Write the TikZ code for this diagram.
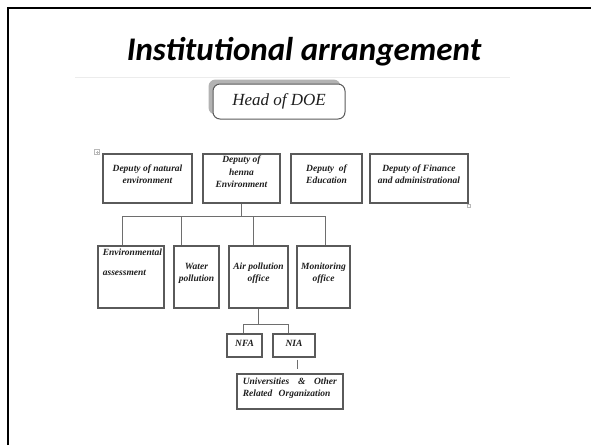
\documentclass[tikz,border=0pt]{standalone}
\usepackage{fontspec}
\setmainfont{Liberation Serif}
\newfontfamily\titlefont{Carlito}
\usetikzlibrary{positioning,shadows}

\definecolor{boxline}{RGB}{90,90,90}
\definecolor{busline}{RGB}{110,110,110}
\definecolor{boxtext}{RGB}{30,30,30}

\tikzset{every picture/.style={line width=0.75pt}}
\tikzset{
  orgbox/.style={draw=boxline, line width=1.1pt, inner sep=0pt},
  orgtext/.style={inner sep=0pt, text=boxtext, align=center,
    font=\fontsize{9.5}{12.5}\selectfont\bfseries\itshape},
  bus/.style={draw=busline, line width=1pt}
}

\begin{document}
\begin{tikzpicture}[x=1pt,y=1pt,yscale=-1,xscale=1]
\useasboundingbox (0,0) rectangle (591,445);

%Slide frame
\draw [line width=2.5pt] (8,445) -- (8,8) -- (591,8) ;
%Title
\node (title) [anchor=base, font=\titlefont\fontsize{33}{36}\selectfont\bfseries\itshape] at (304,60) {Institutional arrangement};
%Straight Lines (rule)
\draw [color=gray!15, line width=1pt] (75,77) -- (510,77) ;

%Shape: Rounded Rectangle (head)
\node (head) [draw=boxline, line width=1pt, rounded corners=7pt, fill=white, minimum width=132, minimum height=35,
  drop shadow={shadow xshift=-4.5pt, shadow yshift=4.5pt, fill=gray!70, opacity=0.85},
  font=\fontsize{17}{20}\selectfont\itshape, text=boxtext] at (279,101.5) {Head of DOE};

%Shape: Rectangle (deputies)
\node (d1) [orgbox, minimum width=89, minimum height=49] at (147.5,178.5) {};
\node (d2) [orgbox, minimum width=77, minimum height=49] at (241.5,178.5) {};
\node (d3) [orgbox, minimum width=71, minimum height=49] at (326.5,178.5) {};
\node (d4) [orgbox, minimum width=98, minimum height=49] at (419,178.5) {};
% Text Node
\node (t1) [orgtext, below=10.5pt of d1.north] {Deputy of natural\\environment};
\node (t2) [orgtext, below=2pt of d2.north] {Deputy of\\henna\\Environment};
\node (t3) [orgtext, below=10.5pt of d3.north] {Deputy~~of\\Education};
\node (t4) [orgtext, below=10.5pt of d4.north] {Deputy of Finance\\and administrational};

%Word handles
\draw [gray!55, line width=0.5pt] (94.5,149.5) rectangle (99.5,154.5) (95.5,152) -- (98.5,152) (97,150.5) -- (97,153.5) ;
\draw [gray!55, line width=0.5pt] (467,204) rectangle (470,207) ;

%Shape: Rectangle (offices)
\node (env) [orgbox, minimum width=66, minimum height=62] at (131,277) {};
\node (wat) [orgbox, minimum width=45, minimum height=62] at (196.5,277) {};
\node (air) [orgbox, minimum width=59, minimum height=62] at (258.5,277) {};
\node (mon) [orgbox, minimum width=53, minimum height=62] at (323.5,277) {};
% Text Node
\node (tenv) [orgtext, align=left, anchor=north west, font=\fontsize{9.5}{20}\selectfont\bfseries\itshape] at ([xshift=5pt,yshift=3pt]env.north west) {Environmental\\assessment};
\node (twat) [orgtext, below=17pt of wat.north] {Water\\pollution};
\node (tair) [orgtext, below=17pt of air.north] {Air pollution\\office};
\node (tmon) [orgtext, below=17pt of mon.north] {Monitoring\\office};

%Straight Lines (bus)
\coordinate (b1) at (122,216);
\coordinate (b2) at (181,216);
\coordinate (b3) at (253,216);
\coordinate (b4) at (325,216);
\draw [bus] (d2.south) -- (d2.south |- b1) ;
\draw [bus] (b1) -- (b4) ;
\draw [bus] (b1) -- (b1 |- env.north) ;
\draw [bus] (b2) -- (b2 |- wat.north) ;
\draw [bus] (b3) -- (b3 |- air.north) ;
\draw [bus] (b4) -- (b4 |- mon.north) ;

%Shape: Rectangle (agencies)
\node (nfa) [orgbox, minimum width=35, minimum height=23] at (244.5,345.5) {};
\node (nia) [orgbox, minimum width=42, minimum height=23] at (294,345.5) {};
\node (univ) [orgbox, minimum width=106, minimum height=35] at (290,391.5) {};
% Text Node
\node (tnfa) [orgtext, below=6.5pt of nfa.north] {NFA};
\node (tnia) [orgtext, below=6.5pt of nia.north] {NIA};
\node (tuniv) [orgtext, align=left, text width=94pt, anchor=north west] at ([xshift=6pt,yshift=4pt]univ.north west) {Universities\hfill\&\hfill Other\\Related~~Organization};

%Straight Lines (air office branch)
\coordinate (a1) at (243,324);
\coordinate (a2) at (288,324);
\draw [bus] (air.south) -- (air.south |- a1) ;
\draw [bus] (a1) -- (a2) ;
\draw [bus] (a1) -- (a1 |- nfa.north) ;
\draw [bus] (a2) -- (a2 |- nia.north) ;
\coordinate (n1) at (297,358);
\draw [bus, shorten <=2pt, shorten >=4pt] (n1 |- nia.south) -- (n1 |- univ.north) ;

\end{tikzpicture}
\end{document}
